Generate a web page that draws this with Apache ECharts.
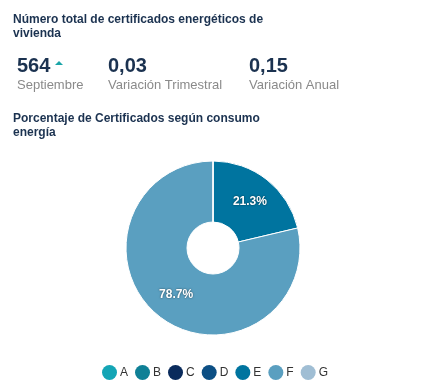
<!DOCTYPE html>
<html>
<head>
<meta charset="utf-8">
<script src="https://cdn.jsdelivr.net/npm/echarts@6/dist/echarts.min.js"></script>
<style>
html,body{margin:0;padding:0;background:#fff;}
#c{width:437px;height:391px;}
</style>
</head>
<body>
<div id="c"></div>
<script>
var categories = ['A','B','C','D','E','F','G'];
var values = [0, 0, 0, 0, 21.3, 78.7, 0];
var colors = ['#14a5b5','#0f8096','#0a2b5c','#0c4f84','#00749f','#5a9fc0','#a0bed4'];
var kpiValues = ['564','0,03','0,15'];
var kpiLabels = ['Septiembre','Variación Trimestral','Variación Anual'];
var title1 = 'Número total de certificados energéticos de\nvivienda';
var title2 = 'Porcentaje de Certificados según consumo\nenergía';

var chart = echarts.init(document.getElementById('c'));
var FONT = '"Liberation Sans", Arial, sans-serif';
var navy = '#1b3250';
var kpiX = [17, 108, 249];
var graphics = [
  {type:'text', left:13, top:13, style:{text:title1, font:'bold 12px '+FONT, fill:navy, lineHeight:14}},
  {type:'text', left:13, top:112, style:{text:title2, font:'bold 12px '+FONT, fill:navy, lineHeight:14}}
];
for (var i=0;i<kpiValues.length;i++){
  graphics.push({type:'text', left:kpiX[i], top:56, style:{text:kpiValues[i], font:'bold 20px '+FONT, fill:navy}});
  graphics.push({type:'text', left:kpiX[i], top:79, style:{text:kpiLabels[i], font:'13px '+FONT, fill:'#8a8a8a'}});
}
graphics.push({type:'polygon', shape:{points:[[55,65],[63,65],[59,61]]}, style:{fill:'#1aa5a8'}});

chart.setOption({
  animation:false,
  color: colors,
  graphic: graphics,
  legend:{
    left:97, top:360, icon:'circle', itemWidth:15, itemHeight:15, itemGap:7,
    itemStyle:{borderWidth:0},
    textStyle:{fontSize:12, color:'#333', fontFamily:FONT, padding:[0,0,0,-2]},
    data: categories
  },
  series:[{
    type:'pie',
    center:[213,248],
    radius:[26,87],
    startAngle:90,
    clockwise:true,
    itemStyle:{borderColor:'#fff', borderWidth:1},
    label:{
      show:true, position:'inside', color:'#fff', fontWeight:'bold', fontSize:12, fontFamily:FONT,
      textShadowColor:'rgba(0,0,0,0.6)', textShadowBlur:2,
      formatter:function(p){ return p.value > 0 ? p.value.toFixed(1) + '%' : ''; }
    },
    labelLine:{show:false},
    data: categories.map(function(c,i){ return {name:c, value:values[i]}; })
  }]
});
</script>
</body>
</html>
